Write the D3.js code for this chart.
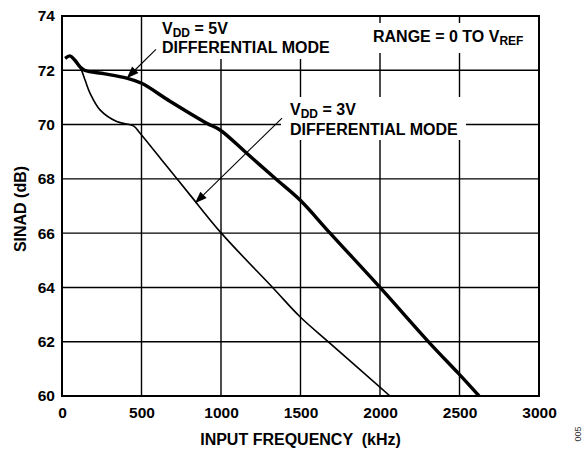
<!DOCTYPE html>
<html>
<head>
<meta charset="utf-8">
<script src="https://cdn.jsdelivr.net/npm/d3@7"></script>
<style>
  html, body { margin: 0; padding: 0; background: #fff; }
  svg { display: block; font-family: "Liberation Sans", Arial, Helvetica, sans-serif; }
</style>
</head>
<body>
<svg id="chart" width="588" height="451"></svg>
<script>
// ---------- data ----------
const xTicks = [0, 500, 1000, 1500, 2000, 2500, 3000];
const yTicks = [60, 62, 64, 66, 68, 70, 72, 74];

// VDD = 5V, differential mode (thick)
const freq5V  = [20, 50, 80, 113, 145, 270, 407, 501, 679, 910, 994, 1162, 1340, 1497, 1686, 2000, 2314, 2492, 2623];
const sinad5V = [72.44, 72.53, 72.38, 72.13, 71.99, 71.87, 71.71, 71.52, 70.86, 70.05, 69.80, 68.94, 68.02, 67.22, 66.0, 64.0, 61.94, 60.84, 60.0];

// VDD = 3V, differential mode (thin)
const freq3V  = [20, 50, 80, 113, 145, 176, 239, 344, 449, 491, 658, 805, 1002, 1329, 1497, 1686, 2063];
const sinad3V = [72.44, 72.53, 72.38, 72.13, 71.64, 71.16, 70.54, 70.11, 69.95, 69.68, 68.47, 67.41, 66.0, 63.97, 62.92, 61.94, 60.0];

// annotation arrows in data units: [fromFreq, fromSinad, toFreq, toSinad]
const arrow5V = [591, 72.77, 407, 71.71];
const arrow3V = [1384, 70.24, 836, 67.1];

// ---------- layout ----------
const svg = d3.select("#chart");
const L = 62, R = 539, T = 16, B = 396;
const x = d3.scaleLinear().domain([0, 3000]).range([L, R]);
const y = d3.scaleLinear().domain([60, 74]).range([B, T]);

// gridlines
const grid = svg.append("g").attr("stroke", "#000").attr("stroke-width", 1.4);
grid.selectAll("line.v").data(xTicks).join("line")
  .attr("x1", d => x(d)).attr("x2", d => x(d)).attr("y1", T).attr("y2", B);
grid.selectAll("line.h").data(yTicks).join("line")
  .attr("y1", d => y(d)).attr("y2", d => y(d)).attr("x1", L).attr("x2", R);

// white label boxes (mask gridlines)
const boxes = [
  {x0: 157, y0: T, x1: 335, y1: 59},
  {x0: 368, y0: 23, x1: 530, y1: 53},
  {x0: 281, y0: 97, x1: 466, y1: 140}
];
svg.append("g").selectAll("rect").data(boxes).join("rect")
  .attr("x", d => d.x0).attr("y", d => d.y0)
  .attr("width", d => d.x1 - d.x0).attr("height", d => d.y1 - d.y0)
  .attr("fill", "#fff");

// curves
svg.append("clipPath").attr("id", "clip")
  .append("rect").attr("x", L).attr("y", T).attr("width", R - L).attr("height", B - T);
const line = d3.line().x(d => x(d[0])).y(d => y(d[1])).curve(d3.curveCatmullRom.alpha(0.5));
const g = svg.append("g").attr("clip-path", "url(#clip)");
g.append("path").datum(d3.zip(freq3V, sinad3V))
  .attr("d", line).attr("fill", "none").attr("stroke", "#000").attr("stroke-width", 1.6);
g.append("path").datum(d3.zip(freq5V, sinad5V))
  .attr("d", line).attr("fill", "none").attr("stroke", "#000").attr("stroke-width", 3.4)
  .attr("stroke-linejoin", "round");

// frame
svg.append("rect").attr("x", L).attr("y", T).attr("width", R - L).attr("height", B - T)
  .attr("fill", "none").attr("stroke", "#000").attr("stroke-width", 2);

// axes
const ax = svg.append("g").attr("transform", `translate(0,${B})`)
  .call(d3.axisBottom(x).tickValues(xTicks).tickSize(0).tickPadding(11).tickFormat(d3.format("d")));
const ay = svg.append("g").attr("transform", `translate(${L},0)`)
  .call(d3.axisLeft(y).tickValues(yTicks).tickSize(0).tickPadding(7).tickFormat(d3.format("d")));
[ax, ay].forEach(a => {
  a.select(".domain").remove();
  a.selectAll("text").attr("font-size", 15.5).attr("font-weight", "bold")
    .attr("fill", "#000").attr("font-family", "'Liberation Sans', Arial, sans-serif");
});

// axis titles
svg.append("text").attr("x", (L + R) / 2).attr("y", 445)
  .attr("text-anchor", "middle").attr("font-size", 16).attr("font-weight", "bold")
  .attr("xml:space", "preserve")
  .text("INPUT FREQUENCY  (kHz)");
svg.append("text").attr("transform", `translate(26,${(T + B) / 2 + 3}) rotate(-90)`)
  .attr("text-anchor", "middle").attr("font-size", 16).attr("font-weight", "bold")
  .text("SINAD (dB)");

// figure number
svg.append("text").attr("transform", "translate(581,434) rotate(-90)")
  .attr("text-anchor", "middle").attr("font-size", 9).attr("fill", "#333")
  .text("005");

// annotation text helper
function subLabel(xp, yp, main, sub, tail) {
  const t = svg.append("text").attr("x", xp).attr("y", yp)
    .attr("font-size", 16).attr("font-weight", "bold").attr("xml:space", "preserve");
  t.append("tspan").text(main);
  t.append("tspan").attr("font-size", 12).attr("dy", 3).text(sub);
  if (tail) t.append("tspan").attr("dy", -3).text(tail);
}
subLabel(162, 34, "V", "DD", " = 5V");
svg.append("text").attr("x", 162).attr("y", 53).attr("font-size", 16).attr("font-weight", "bold")
  .text("DIFFERENTIAL MODE");
subLabel(373, 41.5, "RANGE = 0 TO V", "REF", null);
subLabel(290, 115, "V", "DD", " = 3V");
svg.append("text").attr("x", 290).attr("y", 134.5).attr("font-size", 16).attr("font-weight", "bold")
  .text("DIFFERENTIAL MODE");

// arrows
function arrow(a) {
  const x0 = x(a[0]), y0 = y(a[1]), x1 = x(a[2]), y1 = y(a[3]);
  const dx = x1 - x0, dy = y1 - y0, len = Math.hypot(dx, dy);
  const ux = dx / len, uy = dy / len;
  const hl = 12, hw = 4.5;
  const bx = x1 - ux * hl, by = y1 - uy * hl;
  svg.append("line").attr("x1", x0).attr("y1", y0).attr("x2", bx).attr("y2", by)
    .attr("stroke", "#000").attr("stroke-width", 1.1);
  svg.append("path")
    .attr("d", `M${x1},${y1}L${bx - uy * hw},${by + ux * hw}L${bx + uy * hw},${by - ux * hw}Z`)
    .attr("fill", "#000");
}
arrow(arrow5V);
arrow(arrow3V);
</script>
</body>
</html>
